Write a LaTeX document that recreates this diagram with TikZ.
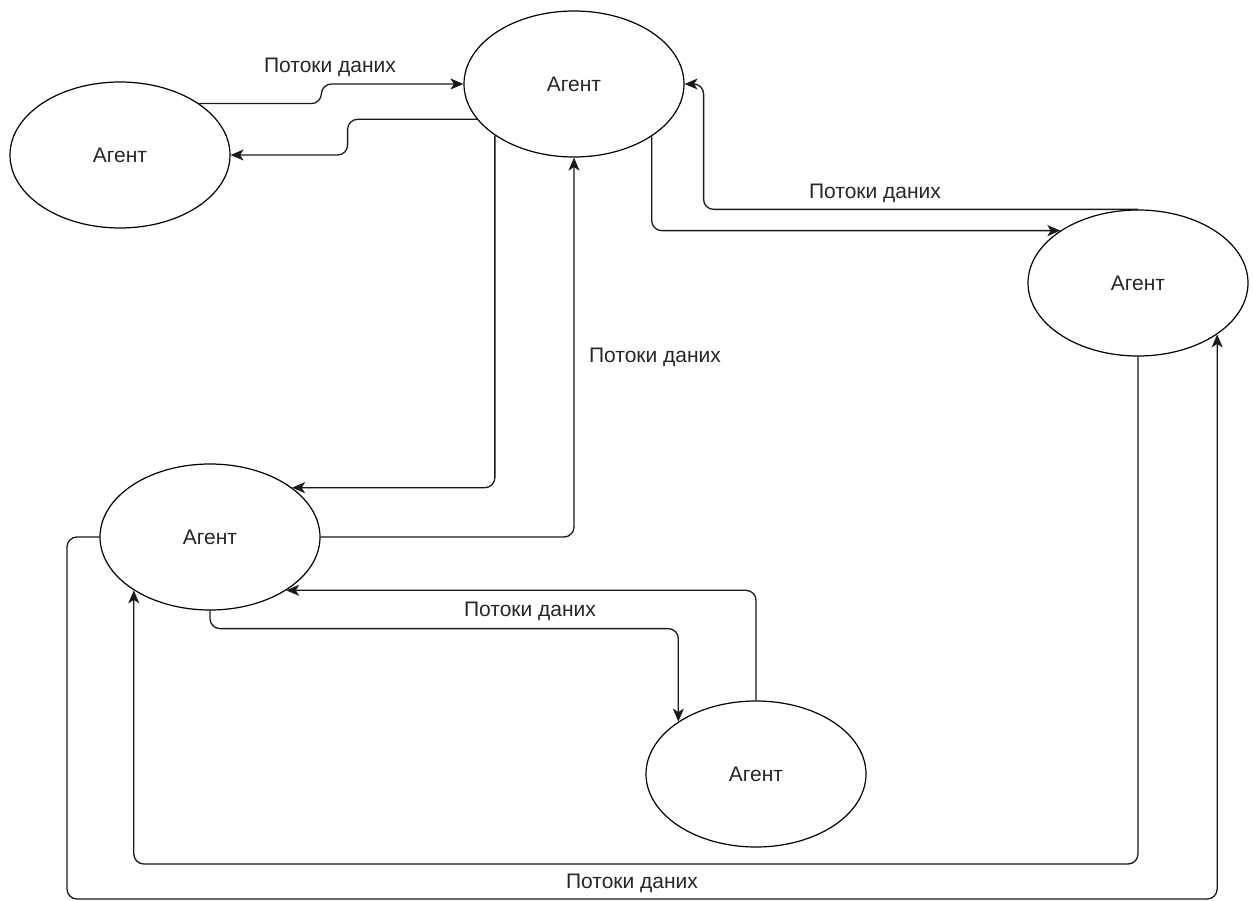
\documentclass[tikz,border=0pt]{standalone}
\usepackage{fontspec}
\setmainfont{Liberation Sans}
\usetikzlibrary{arrows.meta,shapes.geometric,calc}

\tikzset{
  agent/.style={ellipse, draw=black, line width=1.2pt, inner sep=0pt,
    minimum width=220pt, minimum height=146pt, text=black!85,
    font=\fontsize{21}{24}\selectfont},
  flow/.style={draw=black!90, line width=1.3pt, rounded corners=10pt,
    -{Stealth[length=13pt,width=11pt,inset=3.5pt]}},
  flowlabel/.style={text=black!85, font=\fontsize{21}{24}\selectfont, inner sep=0pt}
}

\begin{document}
\begin{tikzpicture}[x=1pt,y=-1pt]
\useasboundingbox (0,0) rectangle (1253,901);

% agents
\node[agent] (A) at (120,155) {Агент};
\node[agent] (B) at (574,84)  {Агент};
\node[agent] (C) at (1138,283) {Агент};
\node[agent] (D) at (210,537) {Агент};
\node[agent] (E) at (756,774) {Агент};

% routing points
\coordinate (low1) at (0,864);
\coordinate (low2) at (67,899);

% top-left exchange
\draw[flow] (A.33.3) -| ($(B.west)+(-142,0)$) -- (B.west);
\draw[flow] (B.200.8) -| ($(A.east)+(117,0)$) -- (A.east);
\node[flowlabel] (l1) at (330,67) {Потоки даних};

% top-right exchange
\draw[flow] (B.326.8) |- (C.146.9);
\draw[flow] (C.north) -| ($(B.east)+(19,0)$) -- (B.east);
\node[flowlabel] (l2) at (875,193) {Потоки даних};

% vertical exchange between the top agent and the lower-left agent
\draw[flow] (B.213.9) |- (D.31.9);
\draw[flow] (D.east) -| (B.south);
\node[flowlabel] (l3) at (655,357) {Потоки даних};

% lower exchange
\draw[flow] (D.south) -- ++(0,18) -| (E.146.1);
\draw[flow] (E.north) |- (D.325.1);
\node[flowlabel] (l4) at (530,611) {Потоки даних};

% long loops along the bottom
\draw[flow] (C.south) -- (C.south |- low1) -| (D.215.2);
\draw[flow] (D.west) -| (low2) -| (C.327.5);
\node[flowlabel] (l5) at (632,883) {Потоки даних};
\end{tikzpicture}
\end{document}
